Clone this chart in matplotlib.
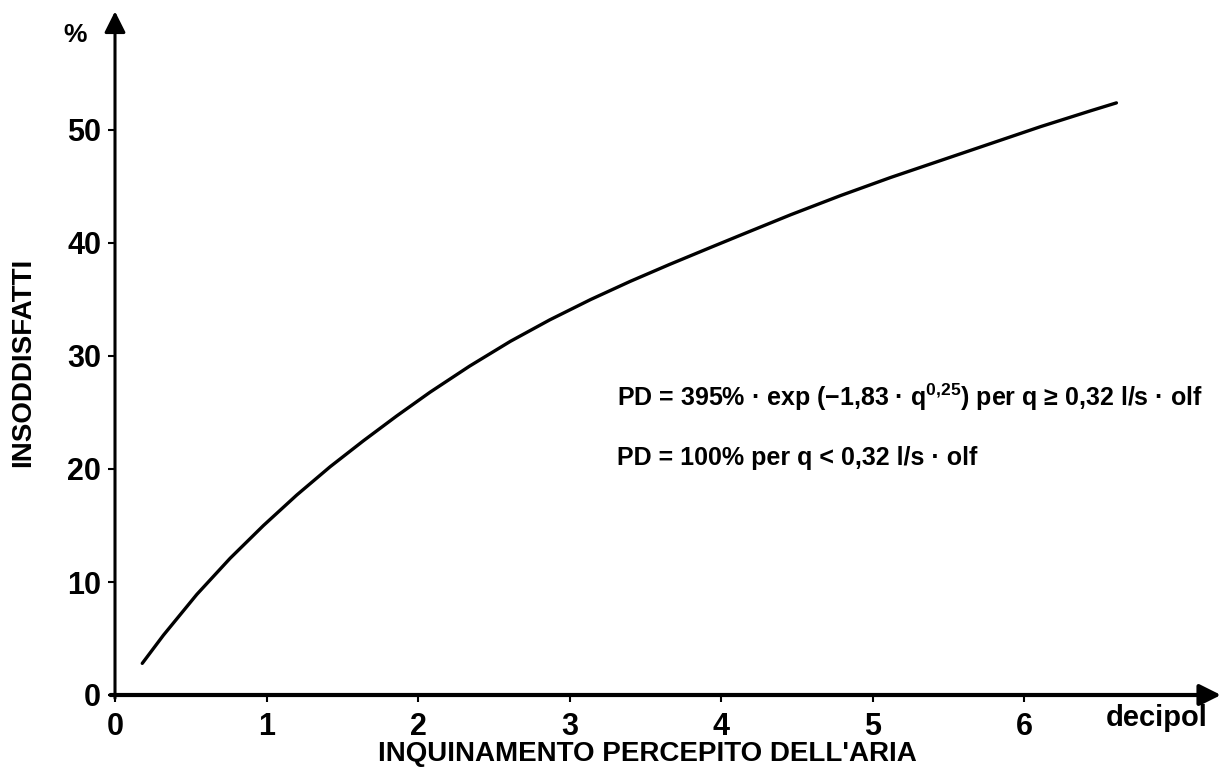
import numpy as np
import matplotlib
matplotlib.use("Agg")
import matplotlib.pyplot as plt

plt.rcParams['font.family'] = ['Liberation Sans', 'DejaVu Sans']
plt.rcParams['mathtext.fontset'] = 'custom'
plt.rcParams['mathtext.rm'] = 'Liberation Sans:bold'
plt.rcParams['mathtext.default'] = 'rm'

### curve: decipol vs % dissatisfied
decipol = [0.18, 0.32, 0.54, 0.76, 0.98, 1.2, 1.42, 1.64, 1.86, 2.08, 2.34, 2.61,
           2.87, 3.14, 3.4, 3.66, 3.93, 4.13, 4.46, 4.79, 5.12, 5.45, 5.78, 6.11,
           6.44, 6.61]
pd_pct = [2.8, 5.3, 8.9, 12.1, 15.0, 17.7, 20.2, 22.5, 24.7, 26.8, 29.1, 31.3,
          33.2, 35.0, 36.6, 38.1, 39.6, 40.7, 42.5, 44.2, 45.8, 47.3, 48.8, 50.3,
          51.7, 52.4]

xticks = [0, 1, 2, 3, 4, 5, 6]
yticks = [0, 10, 20, 30, 40, 50]

W, H = 1223, 776
fig = plt.figure(figsize=(W / 100, H / 100), dpi=100)
x0, y0 = 115, 81          # pixel position of the origin (from bottom-left)
xmax, ymax = 7.3, 60.5
px_x, px_y = 151.5, 11.3  # pixels per unit
ax = fig.add_axes([x0 / W, y0 / H, xmax * px_x / W, ymax * px_y / H])
ax.set_xlim(0, xmax)
ax.set_ylim(0, ymax)
for s in ax.spines.values():
    s.set_visible(False)

ax.plot(decipol, pd_pct, color='black', lw=2.4, solid_capstyle='round',
        solid_joinstyle='round')

# axes with arrow heads
ax.annotate('', xy=(xmax, 0), xytext=(-0.03, 0),
            arrowprops=dict(arrowstyle='-|>', lw=3, color='black', mutation_scale=32,
                            shrinkA=0, shrinkB=0), annotation_clip=False)
ax.annotate('', xy=(0, ymax), xytext=(0, -0.3),
            arrowprops=dict(arrowstyle='-|>', lw=2.2, color='black', mutation_scale=32,
                            shrinkA=0, shrinkB=0), annotation_clip=False)

ax.set_xticks(xticks)
ax.set_yticks(yticks)
ax.tick_params(axis='both', direction='out', length=5, width=1.5, labelsize=22)
ax.tick_params(axis='x', pad=7)
ax.tick_params(axis='y', pad=5)
for lab in ax.get_xticklabels() + ax.get_yticklabels():
    lab.set_fontweight('bold')

fig.text(23 / W, 1 - 362 / H, 'INSODDISFATTI', rotation=90, ha='center', va='center',
         fontsize=20, fontweight='bold')
fig.text(647 / W, 1 - 754 / H, "INQUINAMENTO PERCEPITO DELL'ARIA", ha='center', va='center',
         fontsize=20, fontweight='bold')
fig.text(75 / W, 1 - 35 / H, '%', ha='center', va='center', fontsize=19, fontweight='bold')
fig.text(1157 / W, 1 - 718 / H, 'decipol', ha='center', va='center', fontsize=21,
         fontweight='bold')

fig.text(617 / W, 1 - 397 / H,
         'PD = 395% · exp (−1,83 · q$^{0{,}25}$) per q ≥ 0,32 l/s · olf',
         ha='left', va='center', fontsize=18, fontweight='bold')
fig.text(617 / W, 1 - 458 / H, 'PD = 100% per q < 0,32 l/s · olf',
         ha='left', va='center', fontsize=18, fontweight='bold')

fig.savefig('out.png', dpi=100)
